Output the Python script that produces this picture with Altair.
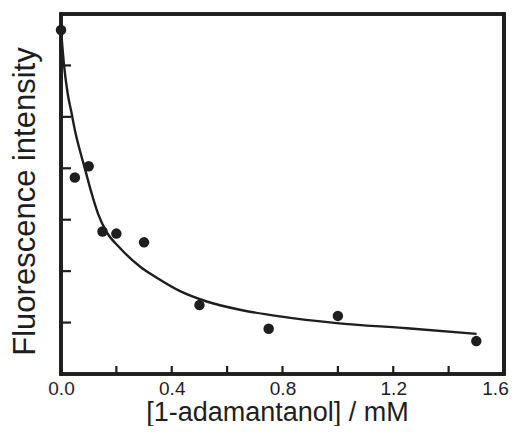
import altair as alt
import pandas as pd

# measured data points
conc = [0.0, 0.05, 0.10, 0.15, 0.20, 0.30, 0.50, 0.75, 1.00, 1.50]
intensity = [6.69, 3.82, 4.04, 2.77, 2.73, 2.56, 1.34, 0.88, 1.13, 0.64]

# fitted curve
fit_x = [0.0, 0.012, 0.024, 0.039, 0.051, 0.069, 0.087, 0.105, 0.135, 0.165,
         0.213, 0.285, 0.346, 0.430, 0.526, 0.646, 0.791, 0.996, 1.25, 1.501]
fit_y = [6.69, 5.95, 5.46, 5.05, 4.72, 4.33, 3.98, 3.62, 3.10, 2.76,
         2.45, 2.09, 1.87, 1.61, 1.41, 1.25, 1.12, 0.99, 0.89, 0.78]

# axis tick positions
x_ticks = [0.2, 0.4, 0.6, 0.8, 1.0, 1.2, 1.4]
y_ticks = [1, 2, 3, 4, 5, 6]
x_labels = [0.0, 0.4, 0.8, 1.2, 1.6]

W, H = 443, 360
INK = "#1e1e1e"
FONT = "Liberation Sans"

pts = pd.DataFrame({"x": conc, "y": intensity})
fit = pd.DataFrame({"x": fit_x, "y": fit_y})
xt = pd.DataFrame({"x": x_ticks})
yt = pd.DataFrame({"y": y_ticks})

xscale = alt.Scale(domain=[0, 1.6], nice=False, zero=False)
yscale = alt.Scale(domain=[0, 7], nice=False, zero=False)

xaxis = alt.Axis(
    values=x_labels, format=".1f", ticks=False, tickSize=0, domain=False, grid=False,
    labelFont=FONT, labelFontSize=19, labelColor=INK, labelPadding=5,
    labelOffset={"condition": {"test": "datum.value >= 1.55", "value": -9}, "value": 0},
    title="[1-adamantanol] / mM", titleFont=FONT, titleFontSize=27,
    titleFontWeight="normal", titleColor=INK, titleX=216, titleY=46,
    titleBaseline="alphabetic", labelFlush=False, labelBound=False,
)
yaxis = alt.Axis(
    labels=False, ticks=False, domain=False, grid=False,
    title="Fluorescence intensity", titleFont=FONT, titleFontSize=31,
    titleFontWeight="normal", titleColor=INK, titleX=-27, titleY=187,
    titleAngle=270, titleBaseline="alphabetic", titleAlign="center",
)

line = alt.Chart(fit).mark_line(color=INK, strokeWidth=2.4, interpolate="monotone").encode(
    x=alt.X("x:Q", scale=xscale, axis=xaxis),
    y=alt.Y("y:Q", scale=yscale, axis=yaxis),
)
dots = alt.Chart(pts).mark_circle(color=INK, opacity=1, size=110).encode(
    x=alt.X("x:Q", scale=xscale),
    y=alt.Y("y:Q", scale=yscale),
)
xtick = alt.Chart(xt).mark_rule(color=INK, strokeWidth=2.2).encode(
    x=alt.X("x:Q", scale=xscale),
    y=alt.value(H), y2=alt.value(H - 8),
)
ytick = alt.Chart(yt).mark_rule(color=INK, strokeWidth=2.2).encode(
    y=alt.Y("y:Q", scale=yscale),
    x=alt.value(0), x2=alt.value(10),
)

# frame of the plot box
fr = dict(color=INK, strokeWidth=2.6, strokeCap="square")
top = alt.Chart(pts).mark_rule(**fr).encode(x=alt.value(0), x2=alt.value(W), y=alt.value(0))
bottom = alt.Chart(pts).mark_rule(**fr).encode(x=alt.value(0), x2=alt.value(W), y=alt.value(H))
left = alt.Chart(pts).mark_rule(**fr).encode(x=alt.value(0), y=alt.value(0), y2=alt.value(H))
right = alt.Chart(pts).mark_rule(**fr).encode(x=alt.value(W), y=alt.value(0), y2=alt.value(H))

chart = alt.layer(xtick, ytick, top, bottom, left, right, line, dots).properties(
    width=W, height=H,
    autosize=alt.AutoSizeParams(type="none"),
    padding={"left": 53, "top": 6, "right": 6, "bottom": 52},
).configure_view(stroke=None).configure(background="white")

chart.save("out.html", embed_options={"renderer": "svg", "actions": False})
